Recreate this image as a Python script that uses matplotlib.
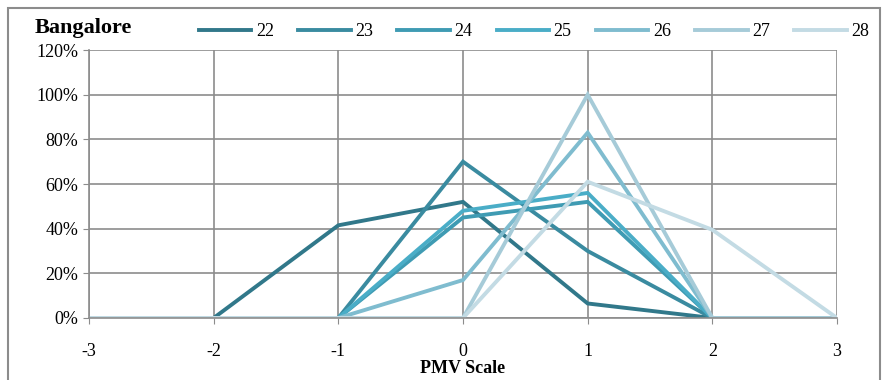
import matplotlib.pyplot as plt
import matplotlib.patches as patches
from matplotlib.ticker import FuncFormatter

pmv = [-3, -2, -1, 0, 1, 2, 3]
temps = ['22', '23', '24', '25', '26', '27', '28']
s22 = [0, 0, 41.5, 52, 6.5, 0, 0]
s23 = [0, 0, 0, 70, 30, 0, 0]
s24 = [0, 0, 0, 45, 52, 0, 0]
s25 = [0, 0, 0, 48, 56, 0, 0]
s26 = [0, 0, 0, 17, 83, 0, 0]
s27 = [0, 0, 0, 0, 100, 0, 0]
s28 = [0, 0, 0, 0, 61, 39.5, 0]
series = [s22, s23, s24, s25, s26, s27, s28]
colors = ['#31788a', '#3a8ba0', '#3f9bb3', '#4aadc7', '#7fbccf', '#a6cbd8', '#c3dbe4']

plt.rcParams['font.family'] = 'Liberation Serif'
plt.rcParams['axes.unicode_minus'] = False
fig = plt.figure(figsize=(8.89, 3.8), dpi=100)
ax = fig.add_axes([89/889, 1 - 318/380, (837-89)/889, (318-50)/380])

for vals, c, lab in zip(series, colors, temps):
    ax.plot(pmv, vals, color=c, lw=2.8, label=lab, solid_joinstyle='miter')

ax.set_xlim(-3, 3)
ax.set_ylim(0, 120)
ax.set_yticks(range(0, 121, 20))
ax.set_xticks(pmv)
ax.yaxis.set_major_formatter(FuncFormatter(lambda v, p: f'{int(v)}%'))
ax.grid(True, color='#8c8c8c', lw=1.2)
ax.set_axisbelow(True)
for s in ['top', 'right']:
    ax.spines[s].set_visible(False)
for s in ['left', 'bottom']:
    ax.spines[s].set_color('#8c8c8c')
    ax.spines[s].set_linewidth(1.2)
ax.tick_params(axis='both', length=4, color='#8c8c8c', labelsize=13)
ax.tick_params(axis='x', pad=14)
ax.set_xlabel('PMV Scale', fontweight='bold', fontsize=13, labelpad=0)

fig.text(35/889, 1 - 28/380, 'Bangalore', fontweight='bold', fontsize=16, va='center')
fig.legend(loc='center', bbox_to_anchor=(534/889, 1 - 32/380), ncol=7, frameon=False,
           fontsize=13, handlelength=2.9, columnspacing=1.35, handletextpad=0.25)

fig.add_artist(patches.Rectangle((8/889, -0.01), (880-8)/889, 1 - 8/380 + 0.01,
                                 transform=fig.transFigure, fill=False,
                                 edgecolor='#8c8c8c', lw=1.5))

fig.savefig('out.png', dpi=100)
